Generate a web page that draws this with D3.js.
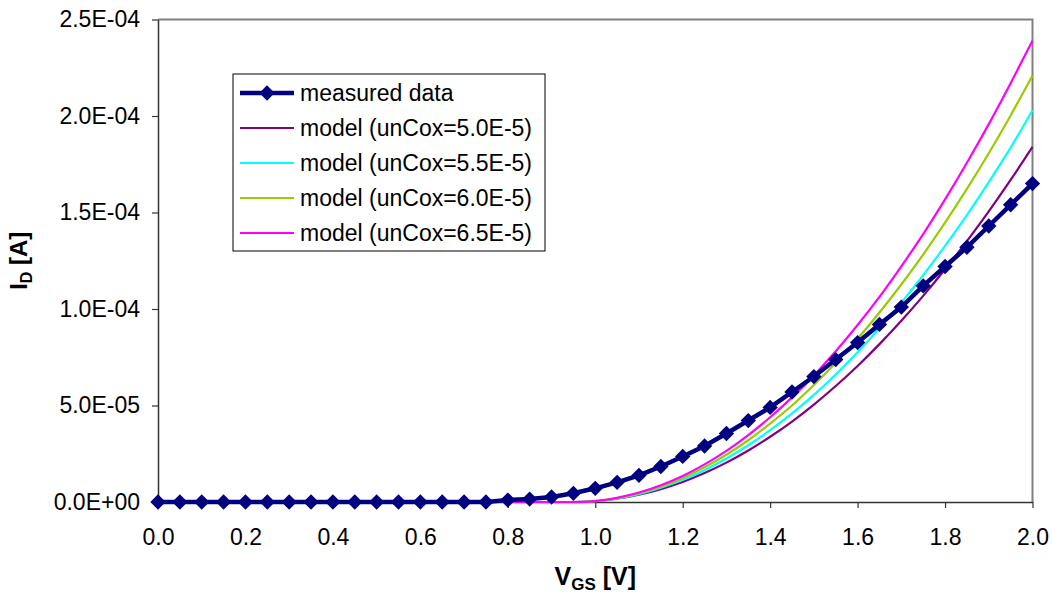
<!DOCTYPE html>
<html>
<head>
<meta charset="utf-8">
<script src="https://cdn.jsdelivr.net/npm/d3@7"></script>
<style>
  body { margin: 0; background: #fff; }
  svg { font-family: "Liberation Sans", Arial, sans-serif; }
</style>
</head>
<body>
<div id="chart"></div>
<script>
// VGS sweep, 0.0 .. 2.0 V in 0.05 V steps
const vgs = d3.range(41).map((i) => +(i * 0.05).toFixed(2));

// drain current, in units of 1E-5 A
const measured = [
  0, 0, 0, 0, 0, 0, 0, 0, 0, 0, 0, 0, 0, 0, 0, 0,
  0.1, 0.15, 0.26, 0.45, 0.71, 1.02, 1.38, 1.84, 2.36, 2.9, 3.55, 4.22, 4.9,
  5.7, 6.5, 7.38, 8.26, 9.2, 10.1, 11.2, 12.2, 13.2, 14.3, 15.4, 16.5
];
// model is zero up to 0.95 V
const zeros = Array(20).fill(0);
const model50 = zeros.concat([0.04, 0.17, 0.38, 0.67, 1.04, 1.50, 2.04, 2.67, 3.38, 4.17, 5.05,
  6.01, 7.05, 8.18, 9.39, 10.68, 12.06, 13.52, 15.06, 16.69, 18.4]);
const model55 = zeros.concat([0.05, 0.18, 0.41, 0.74, 1.15, 1.65, 2.25, 2.94, 3.72, 4.59, 5.55,
  6.61, 7.76, 9.0, 10.33, 11.75, 13.27, 14.87, 16.57, 18.36, 20.3]);
const model60 = zeros.concat([0.05, 0.20, 0.45, 0.80, 1.25, 1.80, 2.45, 3.20, 4.06, 5.00, 6.06,
  7.21, 8.46, 9.82, 11.27, 12.82, 14.47, 16.22, 18.07, 20.03, 22.1]);
const model65 = zeros.concat([0.05, 0.22, 0.49, 0.87, 1.35, 1.95, 2.65, 3.47, 4.39, 5.42, 6.56,
  7.81, 9.17, 10.63, 12.21, 13.88, 15.68, 17.58, 19.58, 21.70, 23.9]);

const seriesNames = [
  "measured data",
  "model (unCox=5.0E-5)",
  "model (unCox=5.5E-5)",
  "model (unCox=6.0E-5)",
  "model (unCox=6.5E-5)"
];
const xTicks = [0, 0.2, 0.4, 0.6, 0.8, 1.0, 1.2, 1.4, 1.6, 1.8, 2.0];
const yTicks = [0, 5e-5, 1e-4, 1.5e-4, 2e-4, 2.5e-4];

const W = 1052, H = 599;
const margin = { top: 19.5, right: 19.5, bottom: 97, left: 158 };
const width = W - margin.left - margin.right;
const height = H - margin.top - margin.bottom;

const svg = d3.select("#chart").append("svg")
  .attr("width", W).attr("height", H);

const g = svg.append("g")
  .attr("transform", `translate(${margin.left},${margin.top})`);

const x = d3.scaleLinear().domain([0, 2]).range([0, width]);
const y = d3.scaleLinear().domain([0, 2.5e-4]).range([height, 0]);

// excel style 0.0E+00
function sci(d) {
  if (d === 0) return "0.0E+00";
  const e = Math.floor(Math.log10(Math.abs(d)) + 1e-9);
  const m = d / Math.pow(10, e);
  const s = e < 0 ? "-" : "+";
  return m.toFixed(1) + "E" + s + String(Math.abs(e)).padStart(2, "0");
}

// frame: gray top/right
g.append("path")
  .attr("d", `M0,0H${width}V${height}`)
  .attr("fill", "none")
  .attr("stroke", "#808080")
  .attr("stroke-width", 2);

// X Axis
const xAxis = g.append("g")
  .attr("transform", `translate(0,${height})`)
  .call(d3.axisBottom(x).tickValues(xTicks).tickFormat(d3.format(".1f"))
    .tickSize(6).tickSizeOuter(0).tickPadding(21));

// Y Axis
const yAxis = g.append("g")
  .call(d3.axisLeft(y).tickValues(yTicks).tickFormat(sci)
    .tickSize(6).tickSizeOuter(0).tickPadding(12));

[xAxis, yAxis].forEach((a) => {
  a.select(".domain").attr("stroke", "#333").attr("stroke-width", 1.5);
  a.selectAll(".tick line").attr("stroke", "#333").attr("stroke-width", 1.2);
  a.selectAll(".tick text")
    .attr("fill", "#000")
    .style("font-size", "23px")
    .style("font-family", "'Liberation Sans', Arial, sans-serif");
});

// model curves
const models = [
  { values: model50, color: "#800080" },
  { values: model55, color: "#00FFFF" },
  { values: model60, color: "#99CC00" },
  { values: model65, color: "#FF00FF" }
];

const line = d3.line()
  .x((d) => x(d[0]))
  .y((d) => y(d[1] * 1e-5))
  .curve(d3.curveMonotoneX);

models.forEach((m) => {
  g.append("path")
    .datum(vgs.map((v, i) => [v, m.values[i]]))
    .attr("fill", "none")
    .attr("stroke", m.color)
    .attr("stroke-width", 2.2)
    .attr("d", line);
});

// measured data
const meas = vgs.map((v, i) => [v, measured[i]]);
g.append("path")
  .datum(meas)
  .attr("fill", "none")
  .attr("stroke", "#000080")
  .attr("stroke-width", 4.5)
  .attr("d", d3.line().x((d) => x(d[0])).y((d) => y(d[1] * 1e-5)));

const diamond = d3.symbol().type(d3.symbolDiamond2).size(150);
g.selectAll(".pt")
  .data(meas)
  .join("path")
  .attr("class", "pt")
  .attr("transform", (d) => `translate(${x(d[0])},${y(d[1] * 1e-5)})`)
  .attr("d", diamond)
  .attr("fill", "#000080");

// Axis titles
svg.append("text")
  .attr("x", margin.left + width / 2)
  .attr("y", 585)
  .attr("text-anchor", "middle")
  .style("font-size", "25px")
  .style("font-weight", "bold")
  .call((t) => {
    t.append("tspan").text("V");
    t.append("tspan").attr("dy", 5).style("font-size", "17px").text("GS");
    t.append("tspan").attr("dy", -5).text(" [V]");
  });

svg.append("text")
  .attr("transform", `translate(27,${margin.top + height / 2}) rotate(-90)`)
  .attr("text-anchor", "middle")
  .style("font-size", "24px")
  .style("font-weight", "bold")
  .call((t) => {
    t.append("tspan").text("I");
    t.append("tspan").attr("dy", 5).style("font-size", "16px").text("D");
    t.append("tspan").attr("dy", -5).text(" [A]");
  });

// Legend
const legend = svg.append("g").attr("transform", "translate(233,74)");
legend.append("rect")
  .attr("width", 312).attr("height", 177)
  .attr("fill", "#fff").attr("stroke", "#000").attr("stroke-width", 1);

const legColors = ["#000080"].concat(models.map((m) => m.color));
seriesNames.forEach((name, i) => {
  const row = legend.append("g").attr("transform", `translate(0,${19 + i * 35})`);
  row.append("line")
    .attr("x1", 7).attr("x2", 61)
    .attr("stroke", legColors[i])
    .attr("stroke-width", i === 0 ? 4.5 : 2.2);
  if (i === 0) {
    row.append("path").attr("transform", "translate(34,0)")
      .attr("d", diamond).attr("fill", "#000080");
  }
  row.append("text")
    .attr("x", 67)
    .attr("dy", "0.35em")
    .style("font-size", "23px")
    .text(name);
});
</script>
</body>
</html>
